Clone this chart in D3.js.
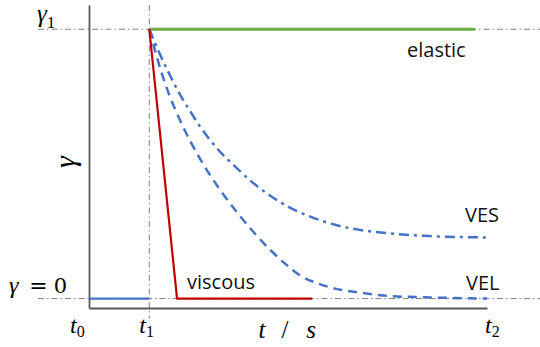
<!DOCTYPE html>
<html>
<head>
<meta charset="utf-8">
<script src="https://cdn.jsdelivr.net/npm/d3@7"></script>
<style>
  html, body { margin: 0; padding: 0; background: #fff; }
  svg { display: block; }
  .math { font-family: "Liberation Serif", "Times New Roman", serif; font-style: italic; }
  .sub { font-family: "Liberation Serif", "Times New Roman", serif; font-style: normal; }
  .lbl { font-family: "Open Sans", "Liberation Sans", sans-serif; font-size: 20px; fill: #111; }
</style>
</head>
<body>
<svg id="chart" width="540" height="347"></svg>
<script>
// time marks t0, t1, t2 and their subscript labels
const tMarks = [0, 1, 6.6];
const tSubs = ["0", "1", "2"];
// strain levels marked on the left: γ = 0 and γ1
const gammaLevels = [0, 1];

// constant strain before loading
const preload = [[0, 0], [1, 0]];
// elastic response: strain held at γ1
const elastic = [[1, 1], [6.4, 1]];
// viscous response: drops straight to zero
const viscous = [[1, 1], [1.46, 0], [3.7, 0]];
// viscoelastic solid: relaxes to a residual strain
const vesT = [1.0, 1.18, 1.34, 1.51, 1.68, 1.84, 2.0, 2.17, 2.42, 2.67, 3.0, 3.33, 3.66, 4.08, 4.49, 4.99, 5.65, 6.6];
const vesG = [1.0, 0.905, 0.83, 0.757, 0.695, 0.639, 0.591, 0.546, 0.491, 0.439, 0.383, 0.338, 0.305, 0.274, 0.255, 0.242, 0.232, 0.227];
// viscoelastic liquid: relaxes fully to zero
const velT = [1.0, 1.18, 1.34, 1.51, 1.68, 1.84, 2.0, 2.17, 2.45, 2.72, 3.0, 3.25, 3.5, 3.8, 4.08, 4.5, 4.88, 5.7, 6.6];
const velG = [1.0, 0.855, 0.751, 0.662, 0.584, 0.52, 0.461, 0.405, 0.321, 0.249, 0.182, 0.13, 0.086, 0.056, 0.037, 0.022, 0.011, 0.004, 0.0];

const svg = d3.select("#chart");
const x = d3.scaleLinear().domain([0, 6.6]).range([89, 487]);
const y = d3.scaleLinear().domain([-0.035, 1.09]).range([308, 5]);

const grey = "#808080";
const refDash = "6,3,1.5,3";

// dash-dot guide lines at γ levels and at t1
svg.append("g").selectAll("line.h").data(gammaLevels).join("line")
  .attr("x1", 38).attr("x2", 540)
  .attr("y1", d => y(d)).attr("y2", d => y(d))
  .attr("stroke", grey).attr("stroke-width", 1).attr("stroke-dasharray", refDash);
svg.append("line")
  .attr("x1", x(tMarks[1])).attr("x2", x(tMarks[1]))
  .attr("y1", y(1.09)).attr("y2", y(-0.075))
  .attr("stroke", grey).attr("stroke-width", 1).attr("stroke-dasharray", refDash);

// axes (lines only)
const axisColor = "#595959";
const gx = svg.append("g").attr("transform", `translate(0,${y(-0.035)})`)
  .call(d3.axisBottom(x).tickValues([]).tickSize(0).tickSizeOuter(0));
const gy = svg.append("g").attr("transform", `translate(${x(0)},0)`)
  .call(d3.axisLeft(y).tickValues([]).tickSize(0).tickSizeOuter(0));
[gx, gy].forEach(g => g.select(".domain").attr("stroke", axisColor).attr("stroke-width", 1.8));

const line = d3.line().x(d => x(d[0])).y(d => y(d[1]));
const curve = d3.line().x(d => x(d[0])).y(d => y(d[1])).curve(d3.curveMonotoneX);

const series = [
  { pts: preload, color: "#4472c4", w: 2.2, dash: null, gen: line },
  { pts: elastic, color: "#70ad47", w: 2.8, dash: null, gen: line },
  { pts: vesT.map((t, i) => [t, vesG[i]]), color: "#4472c4", w: 2.5, dash: "10,5,3,5", gen: curve },
  { pts: velT.map((t, i) => [t, velG[i]]), color: "#4472c4", w: 2.5, dash: "9,6", gen: curve },
  { pts: viscous, color: "#c00000", w: 2.2, dash: null, gen: line }
];
svg.append("g").selectAll("path").data(series).join("path")
  .attr("d", s => s.gen(s.pts))
  .attr("fill", "none")
  .attr("stroke", s => s.color)
  .attr("stroke-width", s => s.w)
  .attr("stroke-dasharray", s => s.dash)
  .attr("stroke-linejoin", "miter");

// curve names
const names = [
  { text: "elastic", x: 407, y: 57 },
  { text: "VES", x: 465, y: 222 },
  { text: "VEL", x: 466, y: 290 },
  { text: "viscous", x: 187, y: 289 }
];
svg.append("g").selectAll("text").data(names).join("text")
  .attr("class", "lbl").attr("x", d => d.x).attr("y", d => d.y).text(d => d.text);

// γ1 label
const g1 = svg.append("text").attr("x", 37).attr("y", 22);
g1.append("tspan").attr("class", "math").attr("font-size", 25).text("γ");
g1.append("tspan").attr("class", "sub").attr("font-size", 17).attr("dy", 6).text("1");

// γ = 0 label
svg.append("text").attr("class", "math").attr("font-size", 24)
  .attr("x", 9).attr("y", 293).text("γ");
svg.append("text").attr("font-family", "DejaVu Serif").attr("font-size", 22)
  .attr("x", 38.5).attr("y", 293).attr("text-anchor", "middle").text("=");
svg.append("text").attr("font-family", "DejaVu Serif").attr("font-size", 21)
  .attr("x", 60.5).attr("y", 293).attr("text-anchor", "middle").text("0");

// t0, t1, t2 labels under the axis
const tl = svg.append("g").selectAll("text").data(tMarks).join("text")
  .attr("x", (d, i) => x(d) + [-19, -10, -2][i]).attr("y", 333);
tl.append("tspan").attr("class", "math").attr("font-size", 24).text("t");
tl.append("tspan").attr("class", "sub").attr("font-size", 16).attr("dy", 4).text((d, i) => tSubs[i]);

// x-axis title: t / s
const xTitle = [
  { s: "t", cx: 262, cls: "math" },
  { s: "/", cx: 285, cls: "sub" },
  { s: "s", cx: 311, cls: "math" }
];
svg.append("g").selectAll("text").data(xTitle).join("text")
  .attr("class", d => d.cls).attr("font-size", 25)
  .attr("x", d => d.cx).attr("y", 338).attr("text-anchor", "middle").text(d => d.s);

// y-axis title
svg.append("text").attr("class", "math").attr("font-size", 30)
  .attr("text-anchor", "middle")
  .attr("transform", "translate(75,162) rotate(-90)").text("γ");
</script>
</body>
</html>
